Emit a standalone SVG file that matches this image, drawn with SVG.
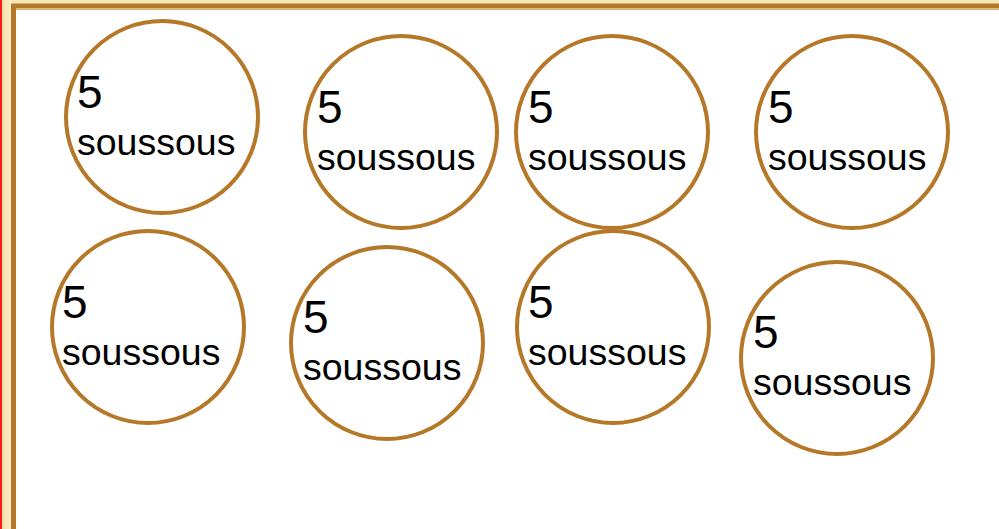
<svg xmlns="http://www.w3.org/2000/svg" width="999" height="529" viewBox="0 0 999 529">
<defs>
<style>
.c{fill:#fff;stroke:#b57828;stroke-width:4}
.n{font-family:"Liberation Sans",Arial,sans-serif;font-size:46px;fill:#000}
.s{font-family:"Liberation Sans",Arial,sans-serif;font-size:37.5px;fill:#000}
</style>
<linearGradient id="bg" x1="0" y1="0" x2="1" y2="0">
<stop offset="0" stop-color="#f1d9a0"/>
<stop offset="1" stop-color="#fbeec9"/>
</linearGradient>
</defs>
<rect x="0" y="0" width="999" height="529" fill="#f7e6b5"/>
<rect x="0" y="0" width="12" height="529" fill="url(#bg)"/>
<rect x="0" y="0" width="2" height="529" fill="#ff1a1a"/>
<rect x="13.5" y="6" width="1000" height="540" fill="#fff" stroke="#b57828" stroke-width="5"/>
<line x1="16" y1="9.5" x2="999" y2="9.5" stroke="#d8b26a" stroke-width="1"/>
<g id="n1"><circle class="c" cx="162" cy="117" r="96"/><text class="n" x="77" y="107.5">5</text><text class="s" x="77" y="155">soussous</text></g>
<g id="n2"><circle class="c" cx="401" cy="132" r="96"/><text class="n" x="317" y="123">5</text><text class="s" x="317" y="170">soussous</text></g>
<g id="n3"><circle class="c" cx="612" cy="132" r="96"/><text class="n" x="528" y="123">5</text><text class="s" x="528" y="170">soussous</text></g>
<g id="n4"><circle class="c" cx="852" cy="132" r="96"/><text class="n" x="768" y="123">5</text><text class="s" x="768" y="170">soussous</text></g>
<g id="n5"><circle class="c" cx="148" cy="327" r="96"/><text class="n" x="62" y="318">5</text><text class="s" x="62" y="365">soussous</text></g>
<g id="n6"><circle class="c" cx="387" cy="343" r="96"/><text class="n" x="303" y="333">5</text><text class="s" x="303" y="380">soussous</text></g>
<g id="n7"><circle class="c" cx="613" cy="327" r="96"/><text class="n" x="528" y="318">5</text><text class="s" x="528" y="365">soussous</text></g>
<g id="n8"><circle class="c" cx="837" cy="358" r="96"/><text class="n" x="753" y="348">5</text><text class="s" x="753" y="395">soussous</text></g>
<g id="connectors"/>
</svg>
